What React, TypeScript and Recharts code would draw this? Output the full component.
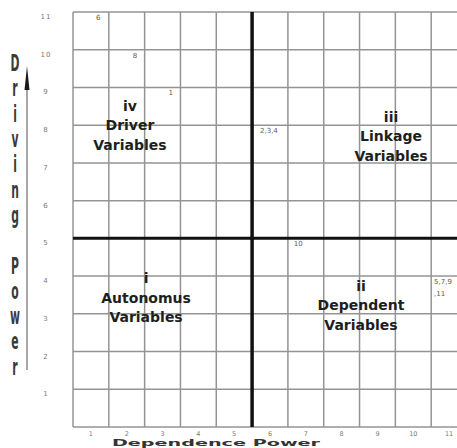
import { ScatterChart, Scatter, XAxis, YAxis, ReferenceLine } from 'recharts';

// variables (by number) placed by dependence / driving power
const variableLabels = ['6', '8', '1', '2,3,4', '10', '5,7,9,11'];
const dependencePower = [1, 2, 3, 6, 7, 11];
const drivingPower = [11, 10, 9, 8, 5, 4];

const xTicks = [1, 2, 3, 4, 5, 6, 7, 8, 9, 10, 11];
const yTicks = [1, 2, 3, 4, 5, 6, 7, 8, 9, 10, 11];
const xGrid = [0.5, 1.5, 2.5, 3.5, 4.5, 5.5, 6.5, 7.5, 8.5, 9.5, 10.5];
const yGrid = [0, 1, 2, 3, 4, 5, 6, 7, 8, 9, 10, 11];
const xSplit = 5.5;
const ySplit = 5;

const quadrantNumerals = ['iv', 'iii', 'i', 'ii'];
const quadrantNames = ['Driver', 'Linkage', 'Autonomus', 'Dependent'];
const quadrantDependence = [2.09, 9.38, 2.54, 8.54];
const quadrantDriving = [8.0, 7.71, 3.42, 3.23];

// small text nudges so labels sit where the original had them
const labelDx = [5, 6, 6, -10, -12, -15];

const points = variableLabels.map((label, i) => ({
  x: dependencePower[i],
  y: drivingPower[i],
  label,
  dx: labelDx[i],
}));

const quadrants = quadrantNames.map((name, i) => ({
  x: quadrantDependence[i],
  y: quadrantDriving[i],
  numeral: quadrantNumerals[i],
  name,
}));

const tickFont = 'DejaVu Sans, sans-serif';

function VariableLabel(props: any) {
  const { cx, cy, payload } = props;
  const text: string = payload.label;
  const lines = text.length > 5 ? [text.slice(0, 5), text.slice(5)] : [text];
  const x = cx + payload.dx;
  return (
    <text x={x} y={cy + 6} fontSize={7} fontFamily={tickFont} fill="#5f5a52" dominantBaseline="central">
      {lines.map((l, i) => (
        <tspan key={i} x={x} dy={i === 0 ? 0 : 12}>
          {l}
        </tspan>
      ))}
    </text>
  );
}

function QuadrantLabel(props: any) {
  const { cx, cy, payload } = props;
  const lines = [payload.numeral, payload.name, 'Variables'];
  return (
    <text
      x={cx}
      y={cy}
      fontSize={14}
      fontWeight="bold"
      fontFamily="DejaVu Sans, sans-serif"
      fill="#1e1e1e"
      textAnchor="middle"
      dominantBaseline="central"
    >
      {lines.map((l, i) => (
        <tspan key={i} x={cx} y={cy + (i - 1) * 19.5}>
          {l}
        </tspan>
      ))}
    </text>
  );
}

function XTick(props: any) {
  const { x, y, payload } = props;
  return (
    <text x={x} y={y + 5} fontSize={6.5} fontFamily={tickFont} fill="#7a7a7a" textAnchor="middle" dominantBaseline="central">
      {payload.value}
    </text>
  );
}

function YTick(props: any) {
  const { x, y, payload } = props;
  return (
    <text
      x={x - 25}
      y={y + 5}
      fontSize={7}
      fontFamily={tickFont}
      fill="#7a7a7a"
      textAnchor="middle"
      dominantBaseline="central"
      letterSpacing={1}
    >
      {payload.value}
    </text>
  );
}

const yTitle = 'Driving Power';

export default function App() {
  return (
    <div style={{ position: 'absolute', left: 0, top: 0, width: 457, height: 448, overflow: 'hidden', background: '#fff' }}>
      <ScatterChart width={467} height={448} margin={{ top: 12, right: 0, bottom: 0, left: 0 }}>
        <XAxis
          type="number"
          dataKey="x"
          domain={[0.5, 11.5]}
          ticks={xTicks}
          height={21}
          tickSize={0}
          axisLine={false}
          tickLine={false}
          tick={<XTick />}
          interval={0}
        />
        <YAxis
          type="number"
          dataKey="y"
          domain={[0, 11]}
          ticks={yTicks}
          width={73}
          tickSize={0}
          axisLine={false}
          tickLine={false}
          tick={<YTick />}
          interval={0}
        />
        {xGrid.map((v) => (
          <ReferenceLine key={'gx' + v} x={v} stroke="#949494" strokeWidth={1.5} />
        ))}
        {yGrid.map((v) => (
          <ReferenceLine key={'gy' + v} y={v} stroke="#949494" strokeWidth={1.5} />
        ))}
        <ReferenceLine x={xSplit} stroke="#111" strokeWidth={3.5} />
        <ReferenceLine y={ySplit} stroke="#111" strokeWidth={3} />
        <Scatter data={quadrants} shape={<QuadrantLabel />} isAnimationActive={false} />
        <Scatter data={points} shape={<VariableLabel />} isAnimationActive={false} />
      </ScatterChart>
      <svg width={457} height={448} style={{ position: 'absolute', left: 0, top: 0, pointerEvents: 'none' }}>
        <line x1={27} y1={80} x2={27} y2={370} stroke="#8a8a8a" strokeWidth={1.5} />
        <polygon points="27,66 29.5,90 24.5,90" fill="#1a1a1a" />
        {yTitle.split('').map((ch, i) => (
          <text
            key={i}
            transform={`translate(15, ${63 + i * 25.3}) scale(1, 1.9)`}
            fontSize={12}
            fontWeight="bold"
            fontFamily="DejaVu Sans Condensed, DejaVu Sans, sans-serif"
            fill="#3a3a3a"
            textAnchor="middle"
            dominantBaseline="central"
          >
            {ch}
          </text>
        ))}
        <text
          transform="translate(216, 443) scale(2.4, 1)"
          fontSize={8}
          fontWeight="bold"
          fontFamily="DejaVu Sans, sans-serif"
          fill="#333"
          textAnchor="middle"
          dominantBaseline="central"
        >
          Dependence Power
        </text>
      </svg>
    </div>
  );
}
